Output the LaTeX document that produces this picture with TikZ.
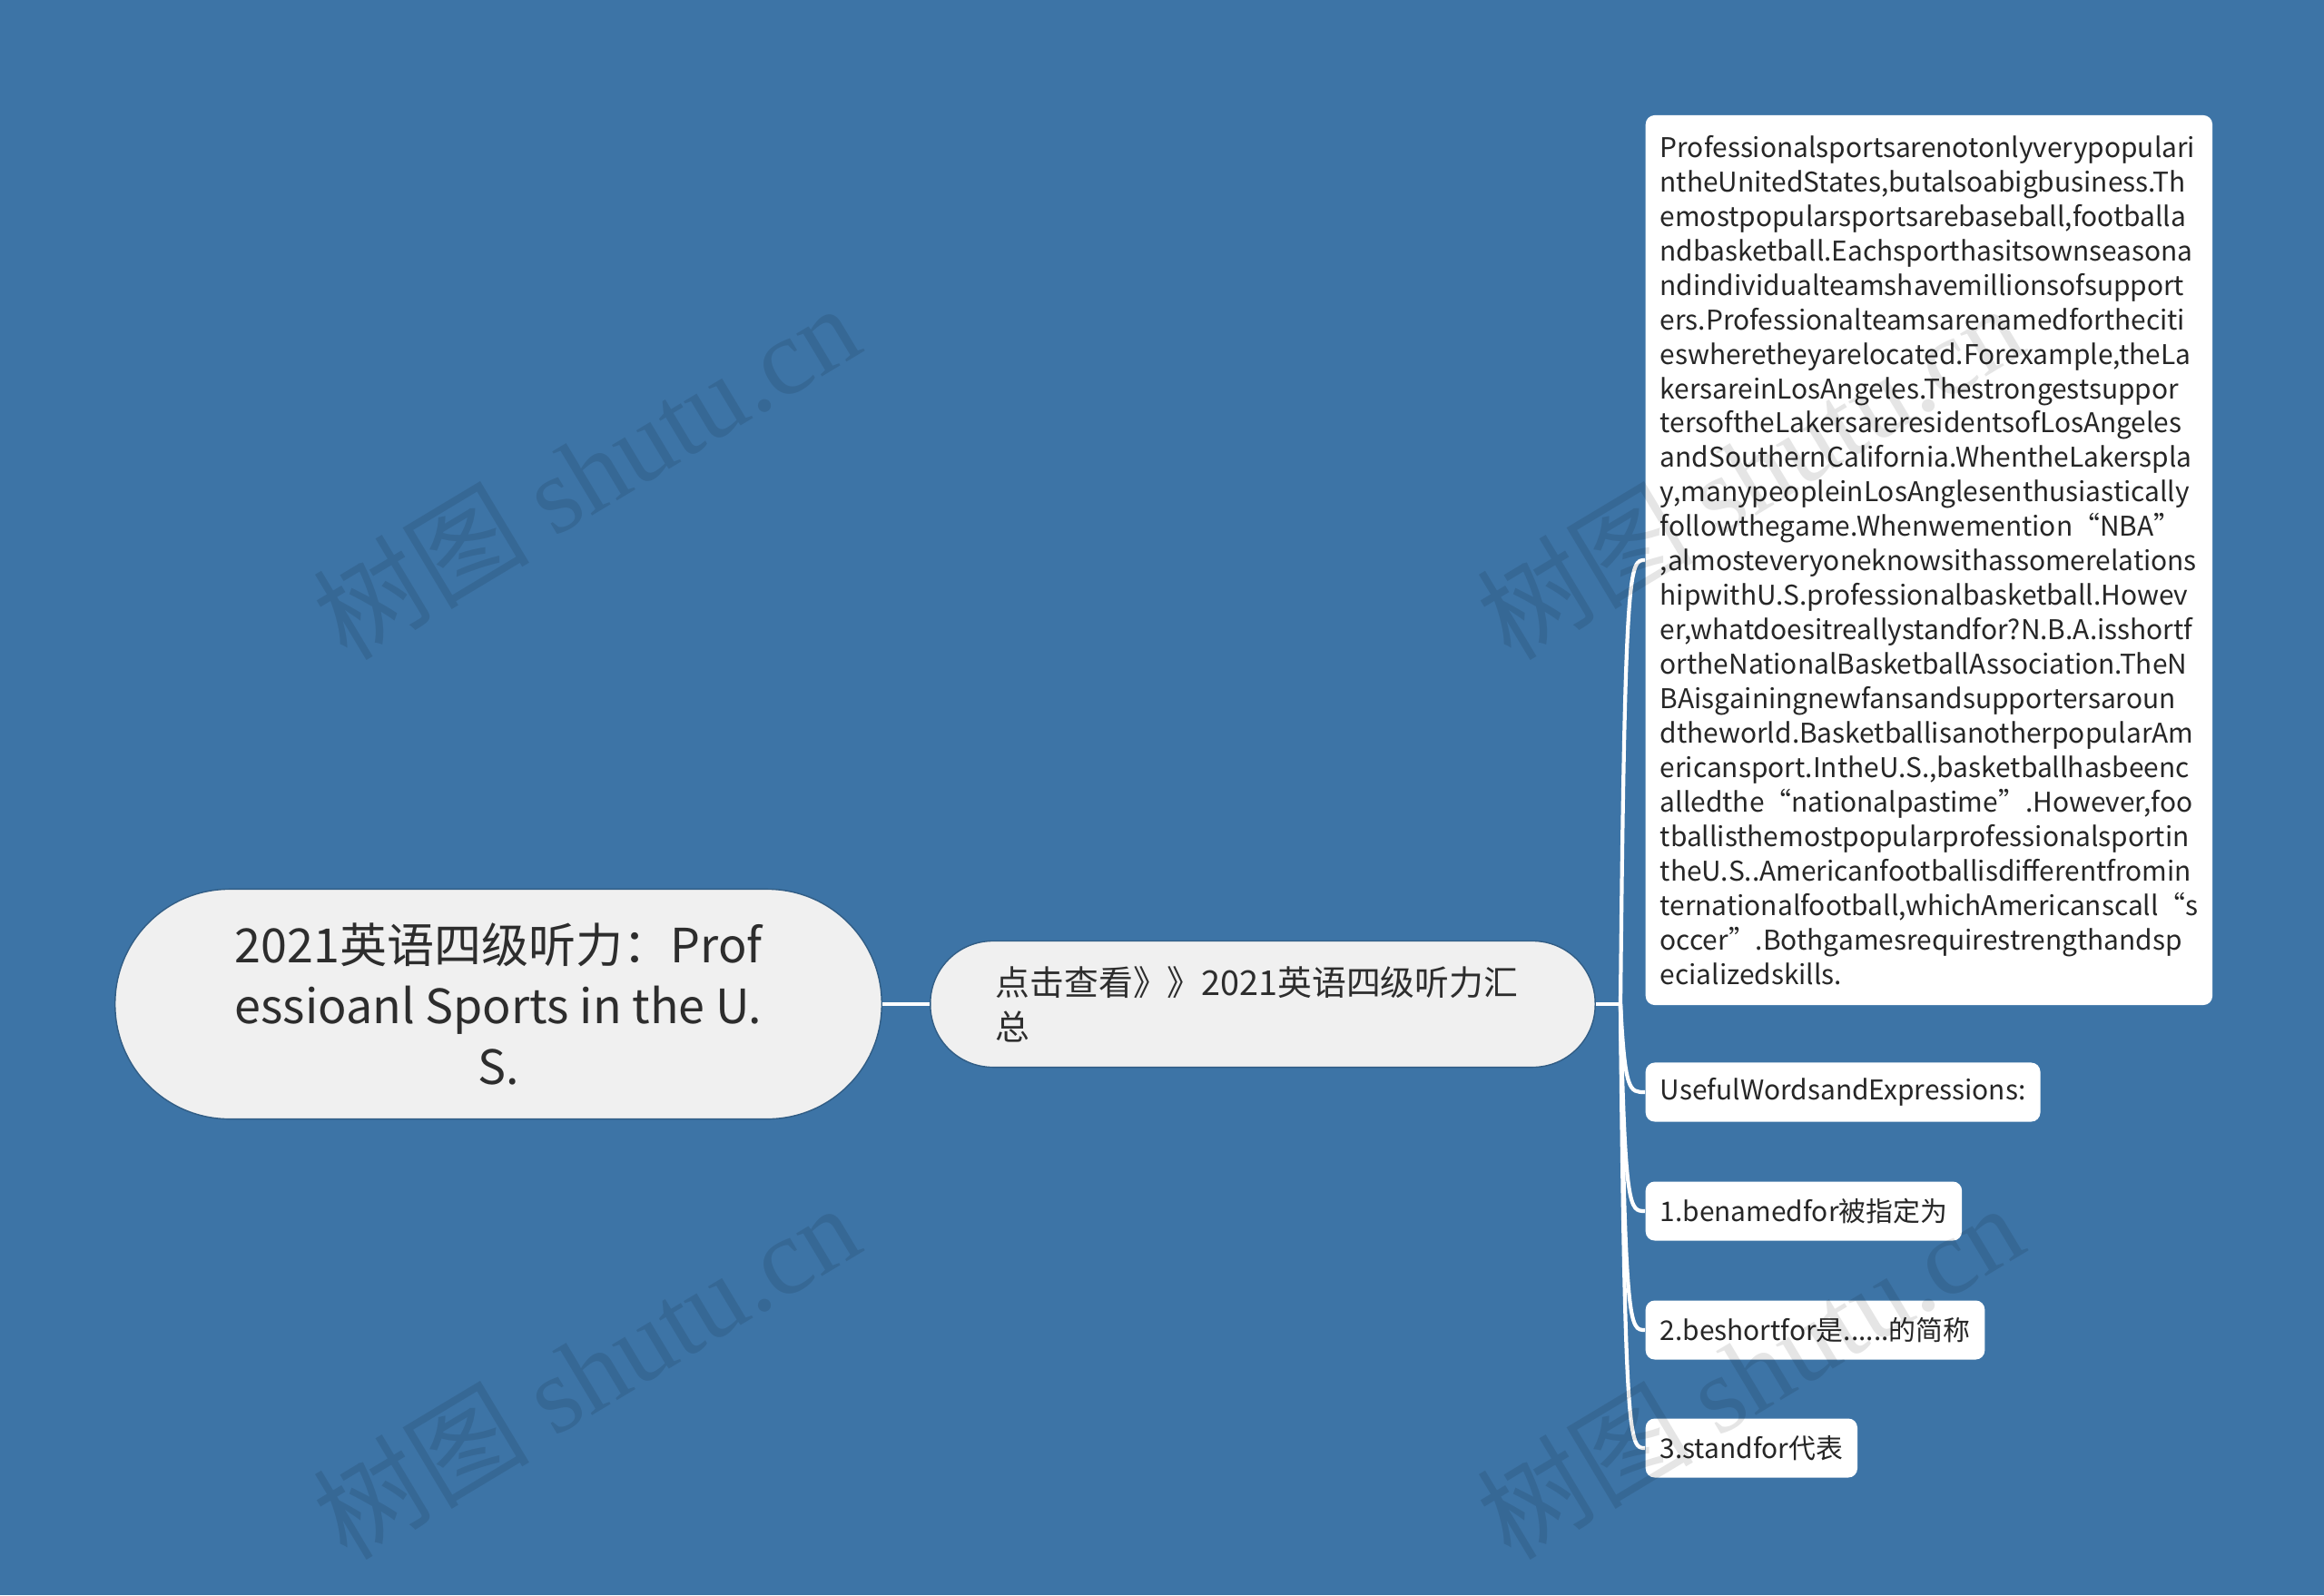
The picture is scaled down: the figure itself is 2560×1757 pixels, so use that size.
\documentclass[tikz,border=0pt]{standalone}
\usepackage{fontspec}
\setmainfont{Noto Sans CJK SC}
\newfontfamily\cjk{Noto Sans CJK SC}
\newfontfamily\wmfont{Liberation Serif}
\usetikzlibrary{positioning}
\definecolor{bgblue}{RGB}{61,116,166}
\definecolor{nodegray}{RGB}{240,240,240}
\definecolor{inkgray}{RGB}{45,45,45}
\hyphenpenalty=10000
\lefthyphenmin=62
\righthyphenmin=62

\tikzset{
  topicbox/.style={fill=nodegray, draw=bgblue!80!black, line width=0.4pt,
    rounded corners=1.26cm, minimum width=8.44cm, minimum height=2.53cm,
    align=center, text=inkgray, font=\fontsize{14.8}{19.1}\selectfont},
  subbox/.style={fill=nodegray, draw=bgblue!80!black, line width=0.4pt,
    rounded corners=0.69cm, minimum width=7.32cm, minimum height=1.39cm,
    inner sep=0pt, text width=5.88cm, align=left, text=inkgray,
    font=\fontsize{10.75}{13.9}\selectfont},
  notebox/.style={fill=white, rounded corners=0.1cm, anchor=west,
    text width=5.92cm, align=left, inner xsep=0.16cm, inner ysep=0.22cm,
    text=black!85, font=\fontsize{8.5}{10.8}\selectfont},
  leafbox/.style={fill=white, rounded corners=0.1cm, anchor=west,
    inner xsep=0.16cm, minimum height=0.65cm,
    text=black!85, font=\fontsize{8.5}{10.8}\selectfont},
  conn/.style={draw=white, line width=1.2pt},
  wmark/.style={rotate=31, text=black, text opacity=0.1,
    font=\fontsize{34}{34}\selectfont}
}

\begin{document}
\begin{tikzpicture}[x=0.01cm,y=-0.01cm]
  \fill[bgblue] (0,0) rectangle (2560,1757);
  \useasboundingbox (0,0) rectangle (2560,1757);

  \node[topicbox] (n1) at (549,1106) {2021英语四级听力：Prof\\essioanl Sports in the U.\\S.};
  \node[subbox] (n2) at (1391,1106) {点击查看》》2021英语四级听力汇\\总};
  \node[notebox] (n3) at (1812,617) {Professionalsportsarenotonlyverypopulari\\
    ntheUnitedStates,butalsoabigbusiness.Th\\
    emostpopularsportsarebaseball,footballa\\
    ndbasketball.Eachsporthasitsownseasona\\
    ndindividualteamshavemillionsofsupport\\
    ers.Professionalteamsarenamedfortheciti\\
    eswheretheyarelocated.Forexample,theLa\\
    kersareinLosAngeles.Thestrongestsuppor\\
    tersoftheLakersareresidentsofLosAngeles\\
    andSouthernCalifornia.WhentheLakerspla\\
    y,manypeopleinLosAnglesenthusiastically\\
    followthegame.Whenwemention“NBA”\\
    ,almosteveryoneknowsithassomerelations\\
    hipwithU.S.professionalbasketball.Howev\\
    er,whatdoesitreallystandfor?N.B.A.isshortf\\
    ortheNationalBasketballAssociation.TheN\\
    BAisgainingnewfansandsupportersaroun\\
    dtheworld.BasketballisanotherpopularAm\\
    ericansport.IntheU.S.,basketballhasbeenc\\
    alledthe“nationalpastime”.However,foo\\
    tballisthemostpopularprofessionalsportin\\
    theU.S..Americanfootballisdifferentfromin\\
    ternationalfootball,whichAmericanscall“s\\
    occer”.Bothgamesrequirestrengthandsp\\
    ecializedskills.};
  \node[leafbox] (n4) at (1812,1203) {UsefulWordsandExpressions:};
  \node[leafbox] (n5) at (1812,1334) {1.benamedfor被指定为};
  \node[leafbox] (n6) at (1812,1465) {2.beshortfor是......的简称};
  \node[leafbox] (n7) at (1812,1595) {3.standfor代表};

  \draw[conn] (n1.east) -- (n2.west);
  \coordinate (j) at (1785,1106);
  \draw[conn] (n2.east) -- (j);
  \foreach \to/\yy in {n3/617,n4/1203,n5/1334,n6/1465,n7/1595}
    \draw[conn] (j) .. controls (1790,\yy) and (1795,\yy) .. (\to.west);

  \node[wmark] (wm1) at (645,519) {\cjk 树图 \wmfont shutu.cn};
  \node[wmark] (wm2) at (1927,519) {\cjk 树图 \wmfont shutu.cn};
  \node[wmark] (wm3) at (645,1510) {\cjk 树图 \wmfont shutu.cn};
  \node[wmark] (wm4) at (1927,1510) {\cjk 树图 \wmfont shutu.cn};
\end{tikzpicture}
\end{document}
